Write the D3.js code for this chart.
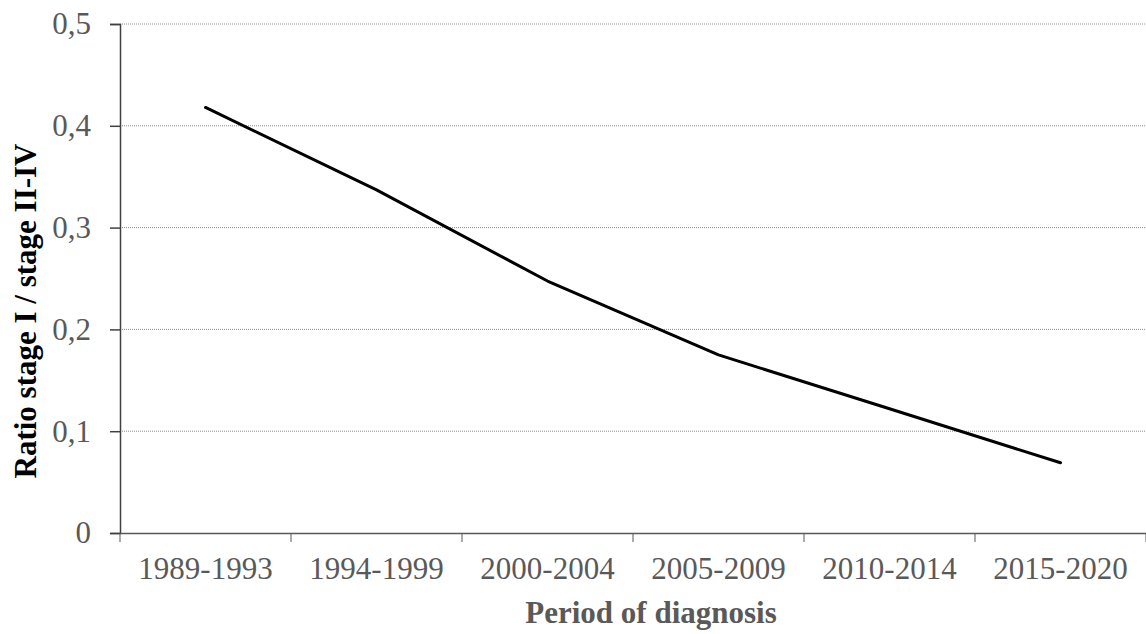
<!DOCTYPE html>
<html>
<head>
<meta charset="utf-8">
<script src="https://cdn.jsdelivr.net/npm/d3@7"></script>
<style>
  body { margin: 0; background: #fff; }
  text { font-family: "Liberation Serif", "Times New Roman", serif; }
</style>
</head>
<body>
<div id="chart"></div>
<script>
// Chart data
var periods = ["1989-1993", "1994-1999", "2000-2004", "2005-2009", "2010-2014", "2015-2020"];
var ratios = [0.418, 0.337, 0.2475, 0.175, 0.122, 0.069];
var yTicks = [0, 0.1, 0.2, 0.3, 0.4, 0.5];

var W = 1146, H = 634,
    margin = {top: 24, right: 0, bottom: 101, left: 120},
    width = W - margin.left - margin.right,
    height = H - margin.top - margin.bottom;

var svg = d3.select("#chart").append("svg")
    .attr("width", W)
    .attr("height", H);

var g = svg.append("g")
    .attr("transform", "translate(" + margin.left + "," + margin.top + ")");

var xScale = d3.scaleBand().domain(periods).range([0, width]);
var yScale = d3.scaleLinear().domain([0, 0.5]).range([height, 0]);

var fmt = function(d) { return String(d).replace(".", ","); };

// Gridlines
g.append("g").selectAll("line")
    .data(yTicks.filter(function(d) { return d > 0; }))
  .enter().append("line")
    .attr("x1", 0).attr("x2", width)
    .attr("y1", function(d) { return yScale(d); })
    .attr("y2", function(d) { return yScale(d); })
    .attr("stroke", "#8c8c8c")
    .attr("stroke-width", 1)
    .attr("stroke-dasharray", "1,1");

// Y axis
var yAxis = g.append("g")
    .call(d3.axisLeft(yScale).tickValues(yTicks).tickFormat(fmt).tickSize(10).tickPadding(19));
yAxis.select(".domain").attr("stroke", "#404040").attr("stroke-width", 1.5);
yAxis.selectAll(".tick line").attr("stroke", "#404040").attr("stroke-width", 1.5);
yAxis.selectAll(".tick text")
    .attr("fill", "#595959")
    .style("font-size", "31px");

// X axis with ticks at category boundaries
var xAxis = g.append("g")
    .attr("transform", "translate(0," + height + ")")
    .call(d3.axisBottom(xScale).tickSize(0).tickPadding(24));
xAxis.select(".domain").attr("stroke", "#595959").attr("stroke-width", 1.5);
xAxis.selectAll(".tick text")
    .attr("fill", "#595959")
    .style("font-size", "31px");

var bounds = periods.map(function(p) { return xScale(p); }).concat([width]);
xAxis.selectAll(".bound")
    .data(bounds)
  .enter().append("line")
    .attr("class", "bound")
    .attr("x1", function(d) { return d; })
    .attr("x2", function(d) { return d; })
    .attr("y1", 0).attr("y2", 9)
    .attr("stroke", "#595959")
    .attr("stroke-width", 1);

// Line
var line = d3.line()
    .x(function(d, i) { return xScale(periods[i]) + xScale.bandwidth() / 2; })
    .y(function(d) { return yScale(d); });

g.append("path")
    .datum(ratios)
    .attr("fill", "none")
    .attr("stroke", "#000")
    .attr("stroke-width", 3)
    .attr("stroke-linejoin", "round")
    .attr("stroke-linecap", "round")
    .attr("d", line);

// Axis titles
svg.append("text")
    .attr("x", 651)
    .attr("y", 623)
    .attr("text-anchor", "middle")
    .attr("fill", "#595959")
    .style("font-size", "31px")
    .style("font-weight", "bold")
    .text("Period of diagnosis");

svg.append("text")
    .attr("transform", "translate(36,311) rotate(-90)")
    .attr("text-anchor", "middle")
    .attr("fill", "#000")
    .style("font-size", "31px")
    .style("font-weight", "bold")
    .text("Ratio stage I / stage II-IV");
</script>
</body>
</html>
